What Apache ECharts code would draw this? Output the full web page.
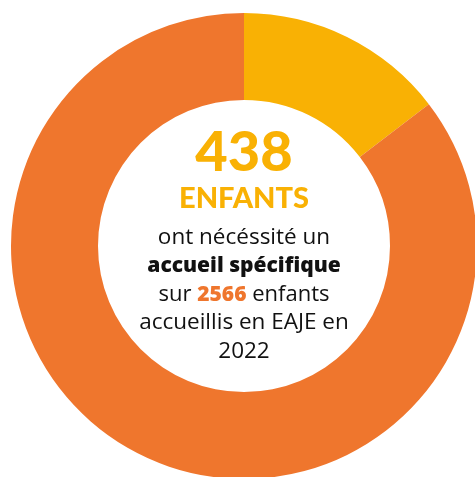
<!DOCTYPE html>
<html>
<head>
<meta charset="utf-8">
<script src="https://cdn.jsdelivr.net/npm/echarts@6/dist/echarts.min.js"></script>
<style>
  html, body { margin: 0; padding: 0; background: #fff; }
  #main { width: 475px; height: 477px; }
</style>
</head>
<body>
<div id="main"></div>
<script>
// data
const sliceNames = ["accueil spécifique", "enfants accueillis en EAJE"];
const sliceValues = [438, 2566];
const sliceColors = ["#F9B104", "#EF762D"];

const bigNumber = "438";
const bigLabel = "ENFANTS";
const line1 = "ont nécéssité un";
const line2 = "accueil spécifique";
const line3a = "sur ";
const line3b = "2566";
const line3c = " enfants";
const line4 = "accueillis en EAJE en";
const line5 = "2022";

const cx = 244, cy = 246;
const bold = "Lato, 'Noto Sans', sans-serif";
const body = "'Open Sans', 'Noto Sans', sans-serif";

let myChart = echarts.init(document.getElementById("main"));

function textEl(y, text, family, size, weight, color, rich) {
  return {
    type: "text",
    x: cx,
    y: y,
    silent: true,
    style: {
      text: text,
      x: 0,
      y: 0,
      align: "center",
      verticalAlign: "middle",
      fontFamily: family,
      fontSize: size,
      fontWeight: weight,
      fill: color,
      rich: rich
    }
  };
}

const option = {
  animation: false,
  series: [
    {
      type: "pie",
      center: [cx, cy],
      radius: [146, 233],
      startAngle: 90,
      clockwise: true,
      silent: true,
      label: { show: false },
      labelLine: { show: false },
      data: sliceValues.map((v, i) => ({
        name: sliceNames[i],
        value: v,
        itemStyle: { color: sliceColors[i] }
      }))
    }
  ],
  graphic: [
    textEl(153, bigNumber, bold, 56, 900, sliceColors[0]),
    textEl(199, bigLabel, bold, 29, 900, sliceColors[0]),
    textEl(238, line1, body, 22.5, "normal", "#111"),
    textEl(266, line2, body, 21, 800, "#111"),
    textEl(295, line3a + "{o|" + line3b + "}" + line3c, body, 22, "normal", "#111", {
      o: { fontFamily: body, fontSize: 21, fontWeight: 800, fill: sliceColors[1], color: sliceColors[1] }
    }),
    textEl(323, line4, body, 22.5, "normal", "#111"),
    textEl(352, line5, body, 22.5, "normal", "#111")
  ]
};

myChart.setOption(option);
</script>
</body>
</html>
